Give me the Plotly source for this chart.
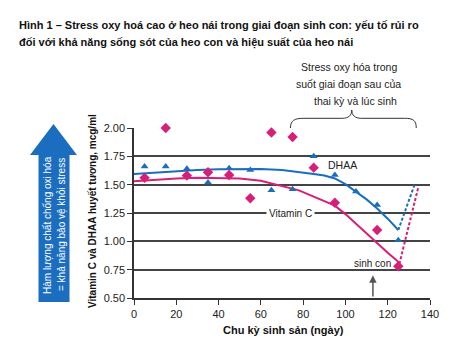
import plotly.graph_objects as go

# ---- data ----
days_pts = [5, 15, 25, 35, 45, 55, 65, 75, 85, 95, 105, 115, 125]
dhaa_pts = [1.66, 1.66, 1.64, 1.52, 1.645, 1.63, 1.45, 1.46, 1.75, 1.585, 1.44, 1.32, 1.01]
vitc_days = [5, 15, 25, 35, 45, 55, 65, 75, 85, 95, 115, 125]
vitc_pts = [1.56, 2.00, 1.58, 1.61, 1.585, 1.38, 1.96, 1.92, 1.65, 1.34, 1.10, 0.78]

fit_days = [0, 10, 20, 30, 40, 50, 60, 70, 78, 85, 90, 95, 100, 105, 110, 115, 120, 125]
dhaa_fit = [1.594, 1.608, 1.62, 1.63, 1.637, 1.64, 1.638, 1.63, 1.613, 1.595, 1.58, 1.555, 1.505, 1.44, 1.37, 1.29, 1.20, 1.10]
vitc_fit = [1.53, 1.545, 1.555, 1.56, 1.56, 1.555, 1.535, 1.49, 1.45, 1.395, 1.355, 1.315, 1.24, 1.155, 1.065, 0.98, 0.90, 0.82]

dhaa_rec_days = [125, 132.7]
dhaa_rec = [1.10, 1.50]
vitc_rec_days = [125.5, 134.5]
vitc_rec = [0.80, 1.48]

y_ticks = [0.5, 0.75, 1.0, 1.25, 1.5, 1.75, 2.0]
y_ticklabels = ["0.50", "0.75", "1.00", "1.25", "1.50", "1.75", "2.00"]
x_ticks = [0, 20, 40, 60, 80, 100, 120, 140]

BLUE = "#1a6dbf"
PINK = "#d81f78"
FONT = "Liberation Sans, Arial, sans-serif"

W, H = 469, 350
L, R, T, B = 134, 39, 128, 52
PW, PH = W - L - R, H - T - B


def px(x):
    return (x - L) / PW


def py(y):
    return (H - B - y) / PH


fig = go.Figure()

fig.add_trace(go.Scatter(x=fit_days, y=dhaa_fit, mode="lines",
                         line=dict(color=BLUE, width=2), hoverinfo="skip"))
fig.add_trace(go.Scatter(x=fit_days, y=vitc_fit, mode="lines",
                         line=dict(color=PINK, width=2), hoverinfo="skip"))
fig.add_trace(go.Scatter(x=dhaa_rec_days, y=dhaa_rec, mode="lines",
                         line=dict(color=BLUE, width=2, dash="3px,2px")))
fig.add_trace(go.Scatter(x=vitc_rec_days, y=vitc_rec, mode="lines",
                         line=dict(color=PINK, width=2, dash="3px,2px")))
fig.add_trace(go.Scatter(x=days_pts, y=dhaa_pts, mode="markers",
                         marker=dict(symbol="triangle-up", size=7, color=BLUE)))
fig.add_trace(go.Scatter(x=vitc_days, y=vitc_pts, mode="markers", cliponaxis=False,
                         marker=dict(symbol="diamond", size=8, color=PINK)))

# brace over the late-gestation period
brace = ("M 74,1.0 C 74,1.045 76,1.057 80,1.057 L 98.5,1.057 "
         "C 101.5,1.057 103,1.075 103,1.106 C 103,1.075 104.5,1.057 107.5,1.057 "
         "L 128,1.057 C 132,1.057 133.5,1.045 133.5,1.0")
fig.add_shape(type="path", xref="x", yref="paper", path=brace,
              line=dict(color="#333", width=1))

# big blue arrow on the left
pts = [(53.5, 124), (77, 155), (69.5, 155), (69.5, 302), (38.5, 302), (38.5, 155), (30, 155)]
path = "M " + " L ".join(f"{px(a):.4f},{py(b):.4f}" for a, b in pts) + " Z"
fig.add_shape(type="path", xref="paper", yref="paper", path=path,
              fillcolor=BLUE, line=dict(width=0))

ann = []


def note(x, y, text, size, color="#222", xanchor="center", angle=0, **kw):
    d = dict(xref="paper", yref="paper", x=px(x), y=py(y), xanchor=xanchor, yanchor="middle",
             text=text, showarrow=False, textangle=angle, font=dict(size=size, color=color))
    d.update(kw)
    ann.append(d)


note(17, 26, "<b>Hình 1 – Stress oxy hoá cao ở heo nái trong giai đoạn sinh con: yếu tố rủi ro</b>",
     11, "#111", xanchor="left")
note(17, 42, "<b>đối với khả năng sống sót của heo con và hiệu suất của heo nái</b>",
     11, "#111", xanchor="left")
for txt, yy, xx in [("Stress oxy hóa trong", 67, 349), ("suốt giai đoạn sau của", 84, 348),
                    ("thai kỳ và lúc sinh", 101, 355)]:
    note(xx, yy, txt, 10.5)
note(92, 211, "<b>Vitamin C và DHAA huyết tương, mcg/ml</b>", 10, "#111", angle=-90)
note(283, 330, "<b>Chu kỳ sinh sản (ngày)</b>", 11, "#111")
note(47, 225, "Hàm lượng chất chống oxi hóa", 10, "white", angle=-90)
note(61, 225, "= khả năng bảo vệ khỏi stress", 10, "white", angle=-90)

ann.append(dict(xref="x", yref="y", x=98.5, y=1.67, text="DHAA", showarrow=False,
                xanchor="center", yanchor="middle", font=dict(size=10.5, color="#222")))
ann.append(dict(xref="x", yref="y", x=74, y=1.25, text="Vitamin C", showarrow=False,
                xanchor="center", yanchor="middle",
                bgcolor="white", borderpad=2, font=dict(size=10, color="#222")))
ann.append(dict(xref="x", yref="y", x=112.8, y=0.805, text="sinh con", showarrow=False,
                xanchor="center", yanchor="middle", font=dict(size=10, color="#222")))
ann.append(dict(xref="x", yref="y", x=113, y=0.70, ax=113, ay=0.5, axref="x", ayref="y",
                text="", showarrow=True, arrowhead=2, arrowsize=1, arrowwidth=1.5,
                arrowcolor="#555"))

fig.update_layout(
    width=W, height=H, margin=dict(l=L, r=R, t=T, b=B),
    paper_bgcolor="white", plot_bgcolor="white", showlegend=False,
    font=dict(family=FONT, color="#222"),
    annotations=ann,
)
fig.update_xaxes(range=[0, 140], tickvals=x_ticks, ticks="outside", ticklen=5,
                 tickcolor="#333", showline=True, linecolor="#333", linewidth=1.5,
                 showgrid=False, zeroline=False, tickfont=dict(size=11, color="#222"))
fig.update_yaxes(range=[0.5, 2.0], tickvals=y_ticks, ticktext=y_ticklabels, ticks="outside",
                 ticklen=5, tickcolor="#333", showline=True, linecolor="#333", linewidth=1.5,
                 showgrid=True, gridcolor="#444", gridwidth=1.5, zeroline=False,
                 tickfont=dict(size=11, color="#222"))

fig.write_html("out.html")
